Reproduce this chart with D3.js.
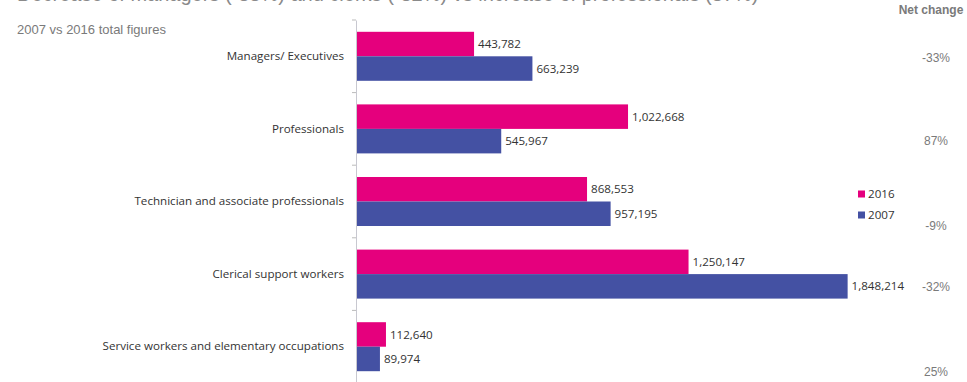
<!DOCTYPE html>
<html>
<head>
<meta charset="utf-8">
<script src="https://cdn.jsdelivr.net/npm/d3@7/dist/d3.min.js"></script>
<style>
  html, body { margin: 0; padding: 0; background: #fff; }
  svg { display: block; }
</style>
</head>
<body>
<svg id="chart" width="967" height="382"></svg>
<script>
// Occupational groups, 2016 vs 2007 headcounts
const categories = [
  "Managers/ Executives",
  "Professionals",
  "Technician and associate professionals",
  "Clerical support workers",
  "Service workers and elementary occupations"
];
const values2016 = [443782, 1022668, 868553, 1250147, 112640];
const values2007 = [663239, 545967, 957195, 1848214, 89974];
const netChange = ["-33%", "87%", "-9%", "-32%", "25%"];
const seriesNames = ["2016", "2007"];
const seriesColors = ["#e5007d", "#4451a3"];

const svg = d3.select("#chart");

const labelFont = "'Open Sans', 'Noto Sans', sans-serif";
const axisFont = "Arial, 'Liberation Sans', sans-serif";

const x = d3.scaleLinear().domain([0, 2000000]).range([356, 888]);
const y = d3.scaleBand().domain(categories).range([20, 383]);

// headline, running off the top edge
svg.append("text")
  .attr("x", 17).attr("y", 1)
  .attr("font-family", axisFont).attr("font-size", 20)
  .attr("fill", "#8a8a8a")
  .text("Decrease of managers (-33%) and clerks (-32%) vs increase of professionals (87%)");

svg.append("text")
  .attr("x", 17).attr("y", 34)
  .attr("font-family", axisFont).attr("font-size", 13)
  .attr("fill", "#7a7a7a")
  .text("2007 vs 2016 total figures");

// paired bars per group
const barH = 24.5;
const rows = categories.map((c, i) => ({ cat: c, v: [values2016[i], values2007[i]] }));

const g = svg.append("g");
rows.forEach(r => {
  const cy = y(r.cat) + y.bandwidth() / 2;
  r.v.forEach((val, j) => {
    const top = cy - barH + j * barH;
    g.append("rect")
      .attr("x", x(0)).attr("y", top)
      .attr("width", x(val) - x(0)).attr("height", barH)
      .attr("fill", seriesColors[j]);
    g.append("text")
      .attr("x", x(val) + 4).attr("y", top + barH / 2)
      .attr("dy", "0.35em")
      .attr("font-family", labelFont).attr("font-size", 11.6)
      .attr("fill", "#333")
      .text(d3.format(",")(val));
  });
});

// category axis
const yAxis = d3.axisLeft(y).tickSize(0).tickPadding(12);
const ag = svg.append("g").attr("transform", `translate(${x(0)},0)`).call(yAxis);
ag.select(".domain").attr("stroke", "#c8c8d0");
ag.selectAll("text")
  .attr("font-family", labelFont).attr("font-size", 11.6)
  .attr("fill", "#333");

// small marks between groups
svg.append("g").selectAll("line").data(categories).join("line")
  .attr("x1", x(0) - 4).attr("x2", x(0))
  .attr("y1", d => y(d)).attr("y2", d => y(d))
  .attr("stroke", "#bbb");

// net change column
svg.append("text")
  .attr("x", 931).attr("y", 14)
  .attr("text-anchor", "middle")
  .attr("font-family", axisFont).attr("font-size", 12).attr("font-weight", "bold")
  .attr("fill", "#7a7a7a")
  .text("Net change");

const netY = [58, 141, 226, 287, 372];
svg.append("g").selectAll("text").data(netChange).join("text")
  .attr("x", 936).attr("y", (d, i) => netY[i])
  .attr("dy", "0.35em")
  .attr("text-anchor", "middle")
  .attr("font-family", axisFont).attr("font-size", 12)
  .attr("fill", "#7a7a7a")
  .text(d => d);

// legend
const lg = svg.append("g").attr("transform", "translate(858,194)");
seriesNames.forEach((s, i) => {
  lg.append("rect").attr("x", 0).attr("y", i * 21 - 3.5).attr("width", 7).attr("height", 7)
    .attr("fill", seriesColors[i]);
  lg.append("text").attr("x", 10).attr("y", i * 21).attr("dy", "0.35em")
    .attr("font-family", labelFont).attr("font-size", 11.6).attr("fill", "#333")
    .text(s);
});
</script>
</body>
</html>
